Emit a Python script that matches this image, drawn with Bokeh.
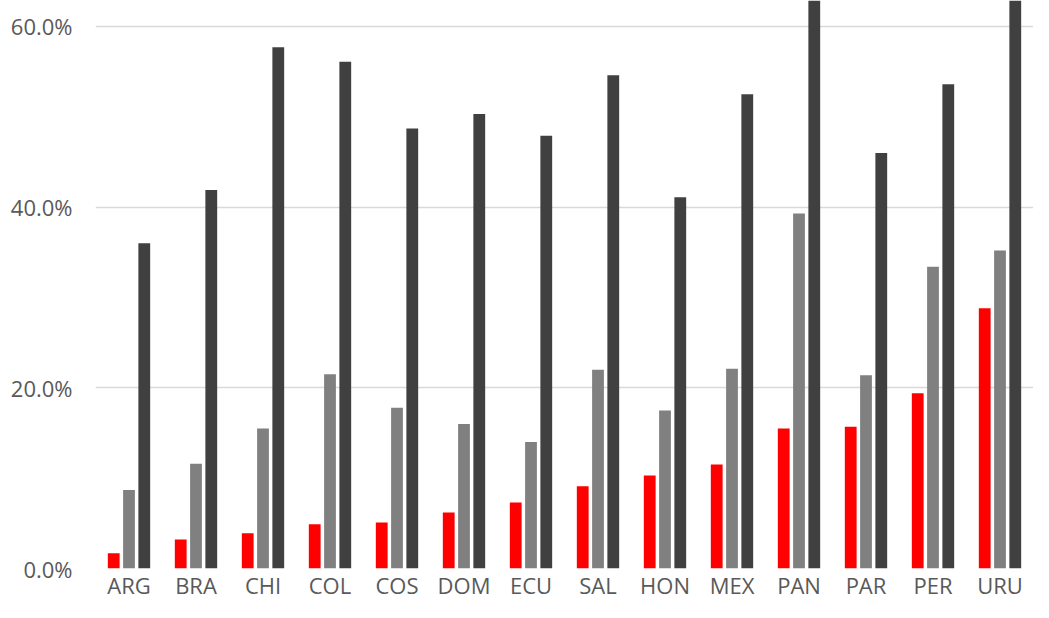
from bokeh.plotting import figure
from bokeh.models import ColumnDataSource, FactorRange, Range1d, FixedTicker, NumeralTickFormatter
from bokeh.transform import dodge
from bokeh.embed import file_html
from bokeh.resources import INLINE

countries = ["ARG", "BRA", "CHI", "COL", "COS", "DOM", "ECU", "SAL", "HON", "MEX", "PAN", "PAR", "PER", "URU"]
series_red = [1.7, 3.2, 3.9, 4.9, 5.1, 6.2, 7.3, 9.1, 10.3, 11.5, 15.5, 15.7, 19.4, 28.8]
series_gray = [8.7, 11.6, 15.5, 21.5, 17.8, 16.0, 14.0, 22.0, 17.5, 22.1, 39.3, 21.4, 33.4, 35.2]
series_dark = [36.0, 41.9, 57.7, 56.1, 48.7, 50.3, 47.9, 54.6, 41.1, 52.5, 66.0, 46.0, 53.6, 65.0]
y_ticks = [0.0, 0.2, 0.4, 0.6]

src = ColumnDataSource(dict(
    x=countries,
    red=[v / 100 for v in series_red],
    gray=[v / 100 for v in series_gray],
    dark=[v / 100 for v in series_dark],
))

p = figure(width=1033, height=602, x_range=FactorRange(*countries, range_padding=0),
           y_range=Range1d(0, 0.6287), output_backend="svg", toolbar_location=None,
           min_border_left=95, min_border_right=0, min_border_top=0, min_border_bottom=32)

bw = 0.176
off = 0.228
p.vbar(x=dodge("x", -off, range=p.x_range), top="red", width=bw, source=src, fill_color="#FF0000", line_color=None)
p.vbar(x=dodge("x", 0, range=p.x_range), top="gray", width=bw, source=src, fill_color="#808080", line_color=None)
p.vbar(x=dodge("x", off, range=p.x_range), top="dark", width=bw, source=src, fill_color="#404040", line_color=None)

p.outline_line_color = None
p.background_fill_color = "white"
p.border_fill_color = "white"
p.xgrid.grid_line_color = None
p.ygrid.grid_line_color = "#d9d9d9"
p.ygrid.grid_line_width = 1.3
p.ygrid.level = "underlay"

p.yaxis.ticker = FixedTicker(ticks=y_ticks)
p.yaxis.formatter = NumeralTickFormatter(format="0.0%")
for ax in (p.xaxis[0], p.yaxis[0]):
    ax.axis_line_color = None
    ax.major_tick_line_color = None
    ax.minor_tick_line_color = None
    ax.major_tick_out = 0
    ax.major_tick_in = 0
    ax.minor_tick_out = 0
    ax.minor_tick_in = 0
    ax.major_label_text_font = "Open Sans"
    ax.major_label_text_font_size = "22px"
    ax.major_label_text_color = "#595959"
p.yaxis.major_label_standoff = 23
p.xaxis.major_label_standoff = 1

open("out.html", "w").write(file_html(p, INLINE))
